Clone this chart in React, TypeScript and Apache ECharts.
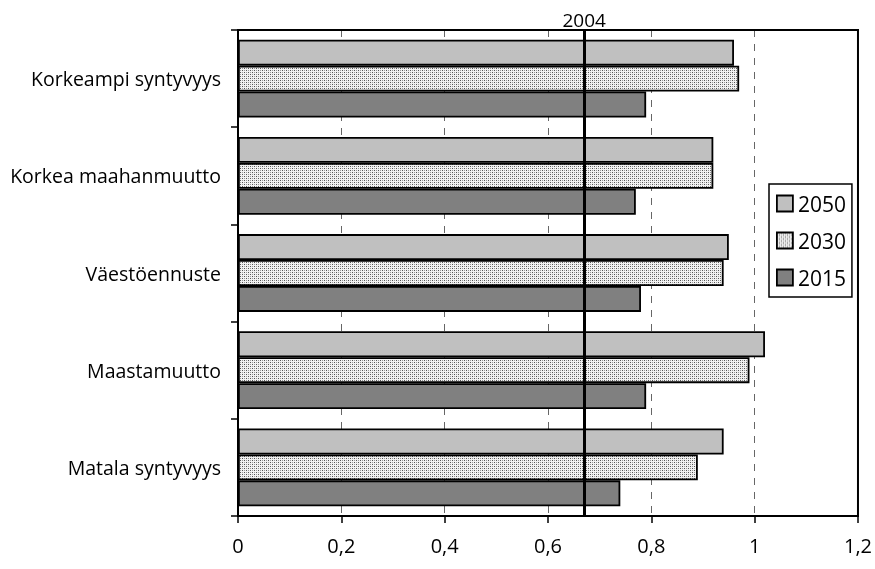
import React, { useEffect, useRef } from "react";
import * as echarts from "echarts";

const categories = [
  "Matala syntyvyys",
  "Maastamuutto",
  "Väestöennuste",
  "Korkea maahanmuutto",
  "Korkeampi syntyvyys",
];
const values2015 = [0.74, 0.79, 0.78, 0.77, 0.79];
const values2030 = [0.89, 0.99, 0.94, 0.92, 0.97];
const values2050 = [0.94, 1.02, 0.95, 0.92, 0.96];
const baseline2004 = 0.67;
const baselineLabel = "2004";
const legendOrder = ["2050", "2030", "2015"];

const FONT = "Open Sans";

function makeDots(): HTMLCanvasElement {
  const c = document.createElement("canvas");
  c.width = 4;
  c.height = 4;
  const ctx = c.getContext("2d")!;
  ctx.fillStyle = "#f2f2f2";
  ctx.fillRect(0, 0, 4, 4);
  ctx.fillStyle = "#555555";
  ctx.fillRect(0, 0, 1, 1);
  ctx.fillRect(2, 2, 1, 1);
  ctx.fillStyle = "#9a9a9a";
  ctx.fillRect(2, 0, 1, 1);
  ctx.fillRect(0, 2, 1, 1);
  return c;
}

export default function App() {
  const ref = useRef<HTMLDivElement>(null);
  useEffect(() => {
    if (!ref.current) return;
    const chart = echarts.init(ref.current, null, { renderer: "svg" });
    const dots = makeDots();
    const pattern: any = {
      image: dots,
      repeat: "repeat",
      imageWidth: 4,
      imageHeight: 4,
    };
    const border = { borderColor: "#000", borderWidth: 1.8 };
    const barCommon = {
      type: "bar" as const,
      barGap: "0%",
      barCategoryGap: "20%",
      silent: true,
    };
    chart.setOption({
      animation: false,
      textStyle: { fontFamily: FONT, color: "#000" },
      grid: {
        left: 238,
        right: 16,
        top: 30,
        bottom: 53,
        containLabel: false,
        show: true,
        borderColor: "#000",
        borderWidth: 2,
        backgroundColor: "transparent",
      },
      legend: {
        orient: "vertical",
        left: 769,
        top: 184,
        data: legendOrder,
        itemWidth: 16,
        itemHeight: 16,
        itemGap: 16,
        padding: [9, 6, 9, 7],
        borderColor: "#000",
        borderWidth: 1.5,
        icon: "rect",
        textStyle: { fontFamily: FONT, fontSize: 21, color: "#000", padding: [0, 0, 0, 0] },
        itemStyle: { borderColor: "#000", borderWidth: 1.8 },
        selectedMode: false,
      },
      xAxis: [
        {
          type: "value",
          min: 0,
          max: 1.2,
          interval: 0.2,
          axisLine: { show: true, lineStyle: { color: "#000", width: 2 } },
          axisTick: { show: true, length: 7, lineStyle: { color: "#000", width: 1.5 } },
          axisLabel: {
            fontFamily: FONT,
            fontSize: 20,
            color: "#000",
            margin: 19,
            formatter: (v: number) => String(Math.round(v * 10) / 10).replace(".", ","),
          },
          splitLine: {
            show: true,
            showMinLine: false,
            showMaxLine: false,
            lineStyle: { color: "#666", width: 1, type: [7, 7] },
          },
        },
        {
          type: "value",
          position: "top",
          min: 0,
          max: 1.2,
          z: 5,
          axisLine: { show: true, lineStyle: { color: "#000", width: 2 } },
          axisTick: { show: false },
          axisLabel: { show: false },
          splitLine: { show: false },
        },
      ],
      yAxis: [
        {
          type: "category",
          data: categories,
          z: 5,
          axisLine: { show: true, lineStyle: { color: "#000", width: 2 } },
          axisTick: { show: true, length: 7, lineStyle: { color: "#000", width: 1.5 } },
          axisLabel: { fontFamily: FONT, fontSize: 19.5, color: "#000", margin: 17 },
        },
        {
          type: "category",
          data: categories,
          position: "right",
          z: 5,
          axisLine: { show: true, lineStyle: { color: "#000", width: 2 } },
          axisTick: { show: false },
          axisLabel: { show: false },
        },
      ],
      series: [
        {
          ...barCommon,
          name: "2050",
          data: values2050,
          itemStyle: { color: "#c0c0c0", ...border },
        },
        {
          ...barCommon,
          name: "2030",
          data: values2030,
          itemStyle: { color: pattern, ...border },
        },
        {
          ...barCommon,
          name: "2015",
          data: values2015,
          itemStyle: { color: "#808080", ...border },
          markLine: {
            silent: true,
            symbol: "none",
            animation: false,
            lineStyle: { color: "#000", width: 3, type: "solid" },
            label: {
              show: true,
              position: "end",
              formatter: baselineLabel,
              fontFamily: FONT,
              fontSize: 19,
              color: "#000",
              distance: 1,
            },
            data: [{ xAxis: baseline2004 }],
          },
        },
      ],
    });
    return () => chart.dispose();
  }, []);
  return (
    <div
      ref={ref}
      style={{ position: "fixed", left: 0, top: 0, width: 875, height: 569 }}
    />
  );
}
